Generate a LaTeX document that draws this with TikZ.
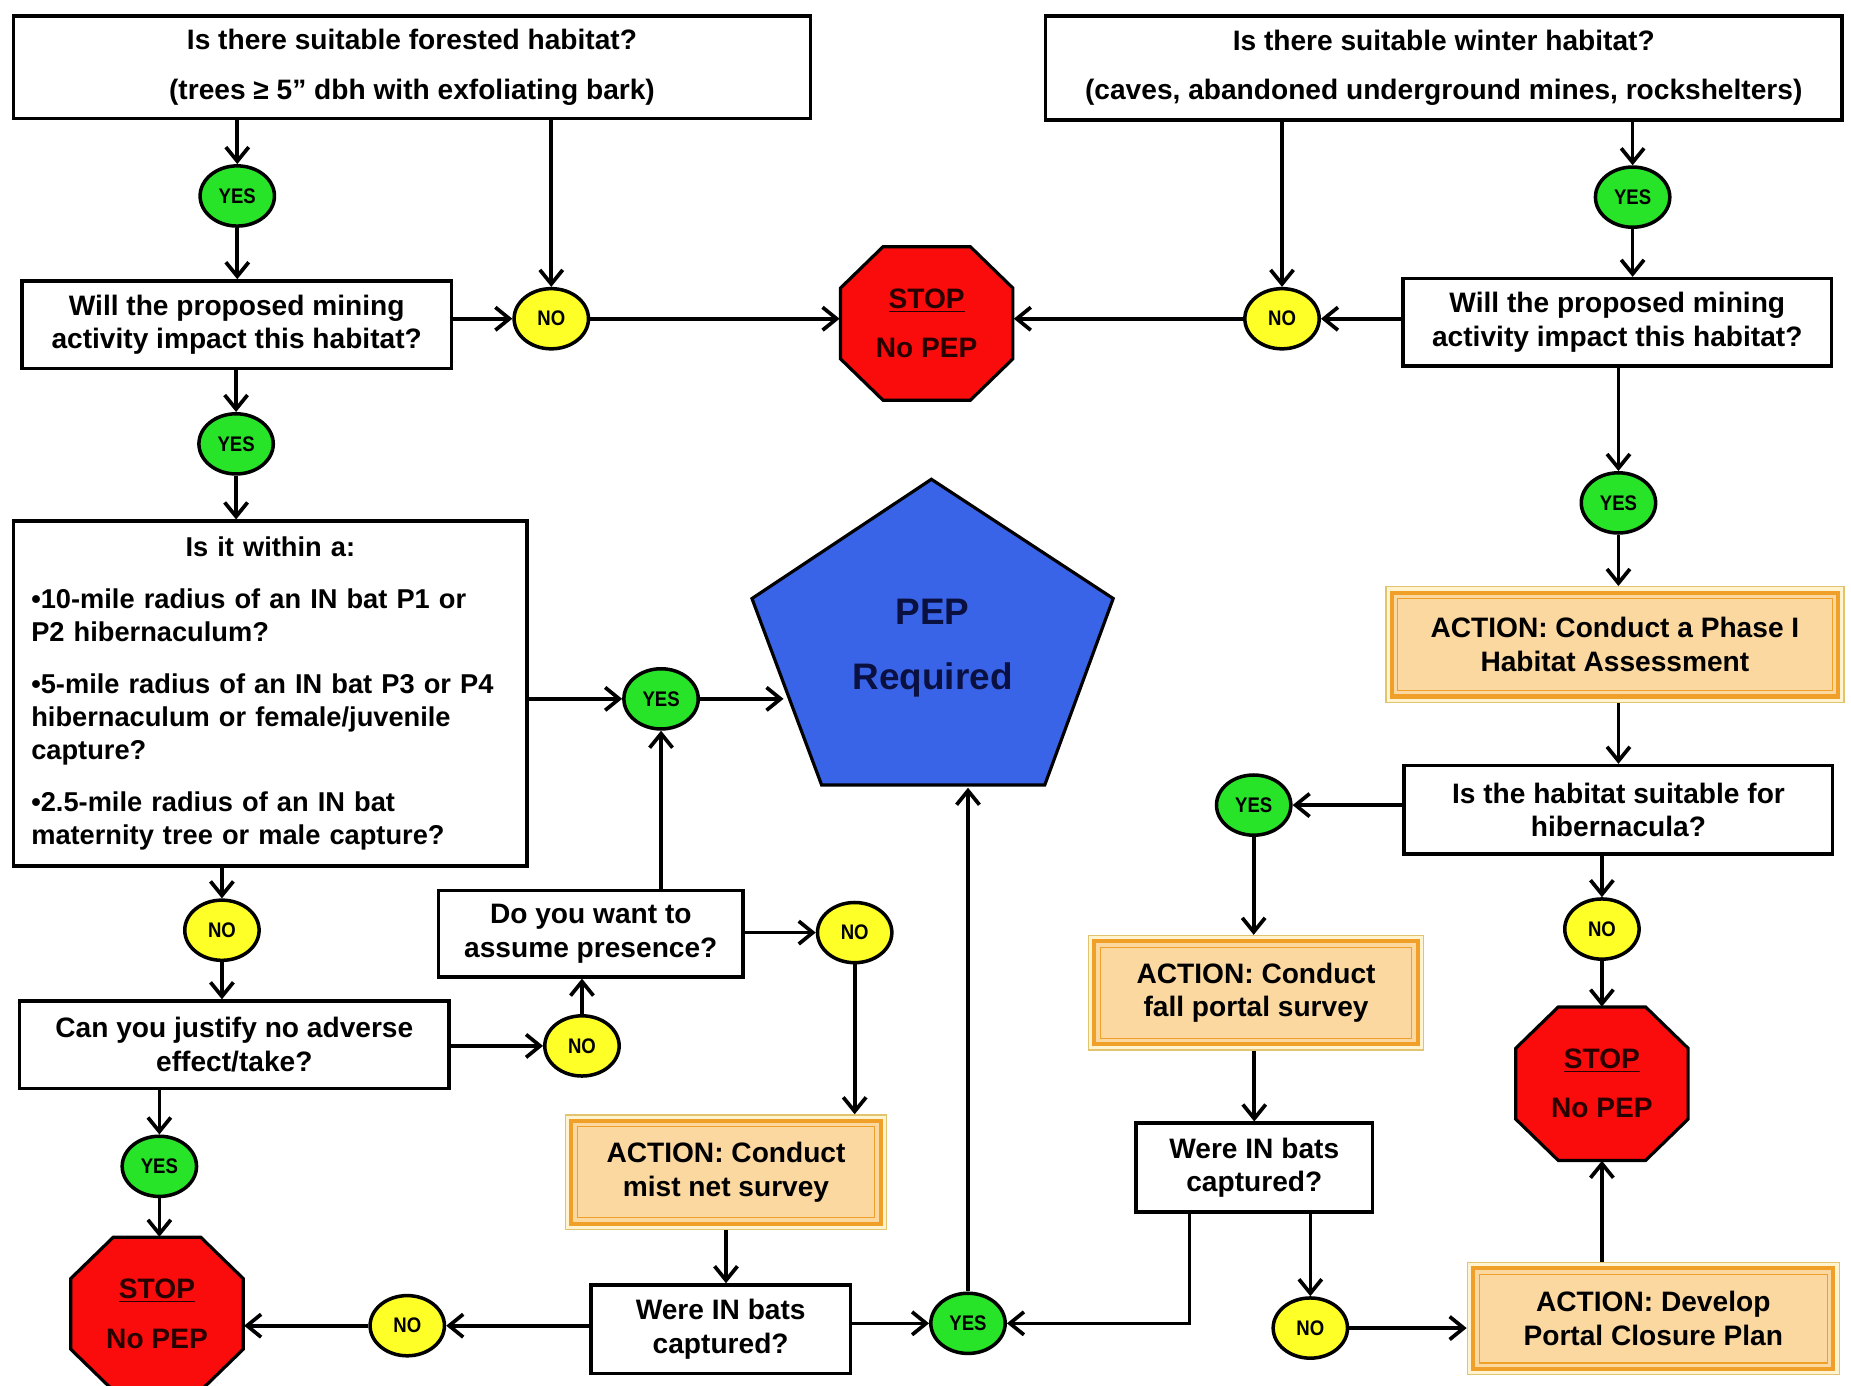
\documentclass[tikz,border=0pt]{standalone}
\usepackage{fontspec}
\setmainfont{Liberation Sans}
\newfontfamily\condfont[FakeStretch=0.88]{Liberation Sans}
\usepackage{tikz}
\usetikzlibrary{arrows.meta, shapes.geometric}

\newlength{\px}
\setlength{\px}{0.02361cm}

\definecolor{yesgreen}{RGB}{40,228,40}
\definecolor{noyellow}{RGB}{255,255,40}
\definecolor{stopred}{RGB}{250,12,12}
\definecolor{stopink}{RGB}{40,0,0}
\definecolor{pepblue}{RGB}{58,100,232}
\definecolor{pepink}{RGB}{10,16,64}
\definecolor{actpeach}{RGB}{251,216,160}
\definecolor{actorange}{RGB}{240,160,40}
\definecolor{actgold}{RGB}{226,196,110}
\definecolor{actpale}{RGB}{255,243,208}

\tikzset{
  qbox/.style={draw, line width=2pt, fill=white, align=center, inner sep=0pt,
    font=\bfseries\fontsize{16}{19}\selectfont},
  actbox/.style={draw=actgold, line width=0.8pt, fill=actpale, align=center, inner sep=0pt,
    font=\bfseries\fontsize{16}{19}\selectfont,
    path picture={
      \draw[actorange, line width=2.3pt, fill=actpeach]
        ([xshift=5\px, yshift=-5\px]path picture bounding box.north west)
        rectangle ([xshift=-5\px, yshift=5\px]path picture bounding box.south east);
      \draw[actorange, line width=0.7pt]
        ([xshift=10\px, yshift=-10\px]path picture bounding box.north west)
        rectangle ([xshift=-10\px, yshift=10\px]path picture bounding box.south east);
    }},
  yesnode/.style={ellipse, draw, line width=2pt, fill=yesgreen, inner sep=0pt,
    minimum width=63\px, minimum height=51\px,
    font=\condfont\bfseries\fontsize{12}{12}\selectfont},
  nonode/.style={yesnode, fill=noyellow},
  stoptext/.style={minimum width=147\px, minimum height=130\px, inner sep=0pt,
    align=center, text=stopink, font=\bfseries\fontsize{16}{19}\selectfont},
  stopline/.style={draw, line width=1.8pt, fill=stopred},
  arr/.style={-{Straight Barb[length=8pt, width=13pt]}, line width=2.1pt},
}

\newcommand{\stopsign}[3]{%
  \filldraw[stopline] (#2-73,#3-30) -- (#2-37,#3-65) -- (#2+37,#3-65) -- (#2+73,#3-30)
    -- (#2+73,#3+30) -- (#2+37,#3+65) -- (#2-37,#3+65) -- (#2-73,#3+30) -- cycle;
  \node[stoptext] (#1) at (#2,#3) {\underline{STOP}\\[9pt]No PEP};
}

\begin{document}
\begin{tikzpicture}[x=0.02361cm, y=-0.02361cm]
\useasboundingbox (0,0) rectangle (1568,1174);
\fill[white] (0,0) rectangle (1568,1174);

\node[qbox, minimum width=675\px, minimum height=87\px] (boxF) at (349,57)
  {Is there suitable forested habitat?\\[9pt](trees ≥ 5” dbh with exfoliating bark)};
\node[qbox, minimum width=675\px, minimum height=88\px] (boxW) at (1223,57.5)
  {Is there suitable winter habitat?\\[9pt](caves, abandoned underground mines, rockshelters)};
\node[qbox, minimum width=364\px, minimum height=74\px] (impF) at (200.5,275)
  {Will the proposed mining\\activity impact this habitat?};
\node[qbox, minimum width=363\px, minimum height=74\px] (impW) at (1370,273)
  {Will the proposed mining\\activity impact this habitat?};
\node[qbox, text width=405\px, inner xsep=15\px, minimum height=292\px, align=left,
  font=\bfseries\fontsize{15.5}{18.8}\selectfont] (within) at (229,587.5)
  {\makebox[\linewidth]{Is it within a:}\\[10.8pt]
   •10-mile radius of an IN bat P1 or\\P2 hibernaculum?\\[10.8pt]
   •5-mile radius of an IN bat P3 or P4\\hibernaculum or female/juvenile\\capture?\\[10.8pt]
   •2.5-mile radius of an IN bat\\maternity tree or male capture?};
\node[qbox, minimum width=258\px, minimum height=73\px] (assume) at (500.5,791)
  {Do you want to\\assume presence?};
\node[qbox, minimum width=364\px, minimum height=74\px] (just) at (198.5,885)
  {Can you justify no adverse\\effect/take?};
\node[qbox, minimum width=363\px, minimum height=75\px] (suit) at (1371,686)
  {Is the habitat suitable for\\hibernacula?};
\node[qbox, minimum width=200\px, minimum height=75\px] (batsF) at (1062.5,989)
  {Were IN bats\\captured?};
\node[qbox, minimum width=220\px, minimum height=75\px] (batsM) at (610.5,1126)
  {Were IN bats\\captured?};

\node[actbox, minimum width=388\px, minimum height=98\px] (actPhase) at (1368,546)
  {ACTION: Conduct a Phase I\\Habitat Assessment};
\node[actbox, minimum width=284\px, minimum height=97\px] (actFall) at (1064,841)
  {ACTION: Conduct\\fall portal survey};
\node[actbox, minimum width=272\px, minimum height=97\px] (actMist) at (615,993)
  {ACTION: Conduct\\mist net survey};
\node[actbox, minimum width=315\px, minimum height=95\px] (actClose) at (1400.5,1117)
  {ACTION: Develop\\Portal Closure Plan};

\node[yesnode] (yesF1) at (201,166) {YES};
\node[yesnode] (yesF2) at (200,376) {YES};
\node[yesnode] (yesW1) at (1383,167) {YES};
\node[yesnode] (yesW2) at (1371,426) {YES};
\node[yesnode] (yesP) at (560,592) {YES};
\node[yesnode] (yesS) at (1062,682) {YES};
\node[yesnode] (yesJ) at (135,988) {YES};
\node[yesnode] (yesB) at (820,1121) {YES};
\node[nonode] (noF) at (467,270) {NO};
\node[nonode] (noW) at (1086,270) {NO};
\node[nonode] (noR) at (188,788) {NO};
\node[nonode] (noA) at (724,790) {NO};
\node[nonode] (noJ) at (493,886) {NO};
\node[nonode] (noS) at (1357,787) {NO};
\node[nonode] (noM) at (345,1123) {NO};
\node[nonode] (noB) at (1110,1125) {NO};

\stopsign{stopT}{785}{274}
\stopsign{stopR}{1357}{918}
\stopsign{stopL}{133}{1113}

\filldraw[draw, line width=1.8pt, fill=pepblue] (789,406) -- (943,507) -- (885,665) -- (696,665) -- (637,507) -- cycle;
\node[minimum width=252\px, minimum height=236\px, inner sep=0pt, align=center, text=pepink,
  font=\bfseries\fontsize{21}{25}\selectfont] (pep) at (790,549) {PEP\\[12pt]Required};

\draw[arr] (yesF1 |- boxF.south) -- (yesF1);
\draw[arr] (yesF1) -- (yesF1 |- impF.north);
\draw[arr] (noF |- boxF.south) -- (noF);
\draw[arr] (impF.east |- noF) -- (noF);
\draw[arr] (noF) -- (noF -| stopT.west);
\draw[arr] (yesF2 |- impF.south) -- (yesF2);
\draw[arr] (yesF2) -- (yesF2 |- within.north);
\draw[arr] (noW |- boxW.south) -- (noW);
\draw[arr] (yesW1 |- boxW.south) -- (yesW1);
\draw[arr] (yesW1) -- (yesW1 |- impW.north);
\draw[arr] (impW.west |- noW) -- (noW);
\draw[arr] (noW) -- (noW -| stopT.east);
\draw[arr] (yesW2 |- impW.south) -- (yesW2);
\draw[arr] (yesW2) -- (yesW2 |- actPhase.north);
\draw[arr] (suit.north |- actPhase.south) -- (suit.north);
\draw[arr] (suit.west |- yesS) -- (yesS);
\draw[arr] (noS |- suit.south) -- (noS);
\draw[arr] (noS) -- (noS |- stopR.north);
\draw[arr] (yesS) -- (yesS |- actFall.north);
\draw[arr] (batsF.north |- actFall.south) -- (batsF.north);
\draw[arr] ([xshift=-55\px]batsF.south) |- (yesB);
\draw[arr] (noB |- batsF.south) -- (noB);
\draw[arr] (noB) -- (noB -| actClose.west);
\draw[arr] (stopR |- actClose.north) -- (stopR.south);
\draw[arr] (yesB) -- (yesB |- pep.south);
\draw[arr] (within.east |- yesP) -- (yesP);
\draw[arr] (yesP) -- (yesP -| pep.west);
\draw[arr] (yesP |- assume.north) -- (yesP);
\draw[arr] (assume.east |- noA) -- (noA);
\draw[arr] (noA) -- (noA |- actMist.north);
\draw[arr] (noR |- within.south) -- (noR);
\draw[arr] (noR) -- (noR |- just.north);
\draw[arr] (just.east |- noJ) -- (noJ);
\draw[arr] (noJ) -- (noJ |- assume.south);
\draw[arr] (yesJ |- just.south) -- (yesJ);
\draw[arr] (yesJ) -- (yesJ |- stopL.north);
\draw[arr] (actMist) -- (actMist |- batsM.north);
\draw[arr] (batsM.west |- noM) -- (noM);
\draw[arr] (noM) -- (noM -| stopL.east);
\draw[arr] (batsM.east |- yesB) -- (yesB);
\end{tikzpicture}
\end{document}
